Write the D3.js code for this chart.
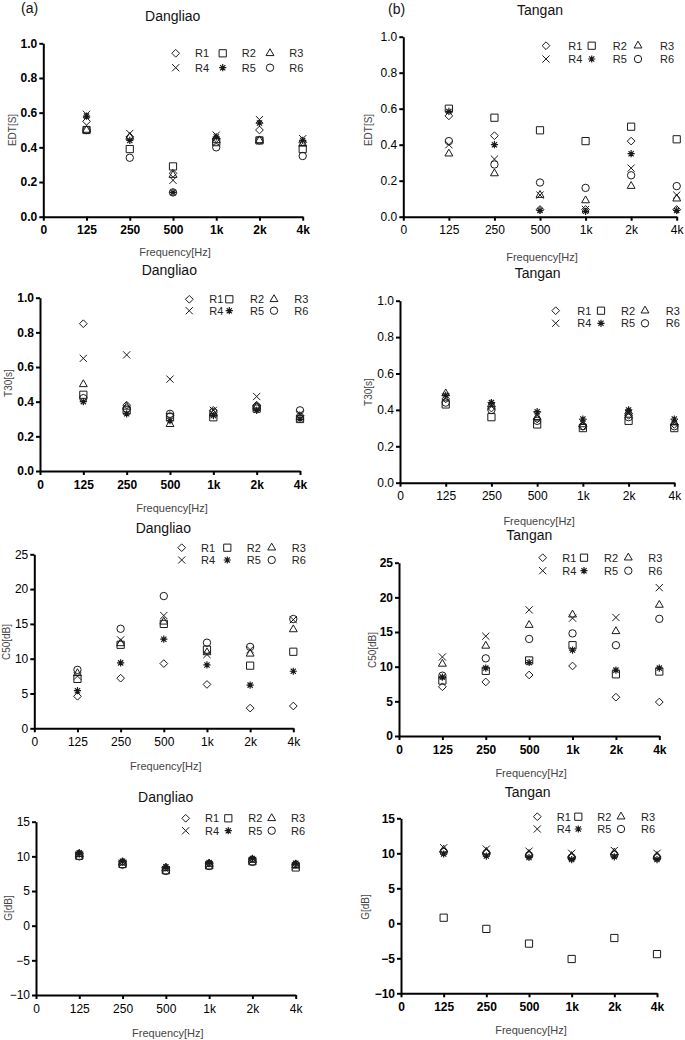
<!DOCTYPE html>
<html><head><meta charset="utf-8">
<script src="https://cdn.jsdelivr.net/npm/d3@7"></script>
<style>
body{margin:0;background:#fff}
text{font-family:"Liberation Sans",Arial,sans-serif}
</style>
</head><body>
<svg id="c" width="685" height="1040"></svg>
<script>
// ---------- DATA ----------
const freqLabels = ["0","125","250","500","1k","2k","4k"];
const seriesNames = ["R1","R2","R3","R4","R5","R6"];

// each array: R1..R6, values at 125,250,500,1k,2k,4k
const edtDangliao = [
  [0.55,0.46,0.25,0.45,0.50,0.43],
  [0.50,0.39,0.29,0.43,0.44,0.39],
  [0.50,0.46,0.24,0.44,0.44,0.42],
  [0.59,0.48,0.21,0.47,0.56,0.45],
  [0.58,0.44,0.14,0.46,0.54,0.44],
  [0.50,0.34,0.14,0.40,0.44,0.35]
];
const edtTangan = [
  [0.56,0.45,0.04,0.04,0.42,0.04],
  [0.60,0.55,0.48,0.42,0.50,0.43],
  [0.35,0.24,0.12,0.09,0.17,0.10],
  [0.40,0.32,0.12,0.04,0.27,0.12],
  [0.585,0.40,0.035,0.03,0.35,0.035],
  [0.42,0.29,0.19,0.16,0.23,0.17]
];
const t30Dangliao = [
  [0.85,0.38,0.32,0.35,0.38,0.32],
  [0.44,0.35,0.31,0.31,0.36,0.30],
  [0.50,0.37,0.27,0.33,0.37,0.31],
  [0.65,0.67,0.53,0.35,0.43,0.33],
  [0.40,0.33,0.29,0.32,0.35,0.30],
  [0.42,0.36,0.33,0.34,0.37,0.35]
];
const t30Tangan = [
  [0.46,0.41,0.35,0.31,0.37,0.32],
  [0.43,0.36,0.32,0.30,0.34,0.30],
  [0.49,0.43,0.36,0.32,0.39,0.33],
  [0.47,0.42,0.37,0.33,0.38,0.33],
  [0.48,0.44,0.39,0.35,0.40,0.35],
  [0.44,0.40,0.34,0.31,0.36,0.31]
];
const c50Dangliao = [
  [4.6,7.2,9.3,6.3,2.9,3.2],
  [7.1,12.0,15.0,11.3,9.0,11.0],
  [7.9,12.2,15.3,10.9,10.7,14.2],
  [7.5,12.7,16.2,10.6,11.3,15.6],
  [5.4,9.4,12.8,9.1,6.2,8.2],
  [8.4,14.3,19.0,12.3,11.7,15.7]
];
const c50Tangan = [
  [7.1,7.8,8.8,10.1,5.6,4.9],
  [8.0,9.4,10.9,13.1,8.9,9.3],
  [10.4,13.0,16.0,17.5,15.1,18.9],
  [11.4,14.4,18.2,17.0,17.1,21.4],
  [8.5,9.8,10.6,12.4,9.5,9.8],
  [8.7,11.2,14.0,14.8,13.1,16.9]
];
const gDangliao = [
  [10.4,9.2,8.4,9.0,9.6,8.9],
  [10.1,8.9,8.0,8.7,9.3,8.4],
  [10.3,9.1,8.3,8.9,9.5,8.7],
  [10.2,9.0,8.1,8.8,9.4,8.6],
  [10.5,9.3,8.5,9.1,9.7,9.0],
  [10.0,8.8,7.9,8.6,9.2,8.8]
];
const gTangan = [
  [10.3,10.1,9.8,9.5,9.9,9.5],
  [0.8,-0.8,-2.9,-5.1,-2.1,-4.4],
  [10.5,10.2,9.9,9.6,10.1,9.6],
  [10.8,10.6,10.3,10.0,10.4,10.0],
  [9.9,9.6,9.4,9.1,9.5,9.1],
  [10.2,10.0,9.7,9.4,9.8,9.4]
];
const ticksSec = [0,0.2,0.4,0.6,0.8,1.0];
const ticksC50 = [0,5,10,15,20,25];
const ticksG = [-10,-5,0,5,10,15];

// ---------- LAYOUT ----------
const panels = [
 {data:edtDangliao, title:"Dangliao", ylab:"EDT[S]", dom:[0,1], ticks:ticksSec, fmt:".1f", bold:true,
  x0:43.3, x6:302.7, yT:43.3, yB:216.7, tx:172.7, ty:21, ylx:12, yly:130, xly:256,
  ls:[175.7,222.7,270], ll:[195,241.7,289.3], lr:[53.3,67.7], letter:"(a)", lx:21, lyy:13},
 {data:edtTangan, title:"Tangan", ylab:"EDT[S]", dom:[0,1], ticks:ticksSec, fmt:".1f", bold:false,
  x0:403.3, x6:676.7, yT:36.7, yB:216.7, tx:540, ty:15, ylx:368, yly:130, xly:261,
  ls:[546,591.7,638], ll:[568.3,612.7,660], lr:[45.7,59], letter:"(b)", lx:388, lyy:14},
 {data:t30Dangliao, title:"Dangliao", ylab:"T30[s]", dom:[0,1], ticks:ticksSec, fmt:".1f", bold:true,
  x0:40, x6:300, yT:297.7, yB:471, tx:169.3, ty:275, ylx:8.5, yly:383, xly:512,
  ls:[189.3,229.3,274], ll:[209.3,250,294.3], lr:[299.3,310.7]},
 {data:t30Tangan, title:"Tangan", ylab:"T30[s]", dom:[0,1], ticks:ticksSec, fmt:".1f", bold:false,
  x0:400, x6:674.3, yT:300.7, yB:482.7, tx:537.7, ty:278, ylx:368, yly:392, xly:525,
  ls:[555.7,601,645], ll:[577.3,621,665.7], lr:[310.7,323.3]},
 {data:c50Dangliao, title:"Dangliao", ylab:"C50[dB]", dom:[0,25], ticks:ticksC50, fmt:"d", bold:false,
  x0:34.3, x6:293.3, yT:554.3, yB:728.3, tx:163.3, ty:533, ylx:6, yly:642, xly:770,
  ls:[181.7,227.3,271.7], ll:[201,246.7,291.7], lr:[547.7,560]},
 {data:c50Tangan, title:"Tangan", ylab:"C50[dB]", dom:[0,25], ticks:ticksC50, fmt:"d", bold:true,
  x0:399, x6:659.3, yT:562.7, yB:736, tx:529.3, ty:540, ylx:372, yly:650, xly:777,
  ls:[542.7,584,628.3], ll:[562.3,604,648.3], lr:[557.7,570.7]},
 {data:gDangliao, title:"Dangliao", ylab:"G[dB]", dom:[-10,15], ticks:ticksG, fmt:"d", bold:false,
  x0:36, x6:295.7, yT:821.7, yB:995, tx:165.7, ty:801.5, ylx:8.5, yly:908, xly:1037,
  ls:[185.7,228.3,271.7], ll:[205,248.3,291], lr:[818.3,830.7]},
 {data:gTangan, title:"Tangan", ylab:"G[dB]", dom:[-10,15], ticks:ticksG, fmt:"d", bold:true,
  x0:401, x6:657, yT:818.3, yB:993.3, tx:527.7, ty:796.5, ylx:365, yly:907, xly:1034,
  ls:[537.3,578.3,621], ll:[556.7,597.3,641], lr:[816.7,829]}
];

// ---------- SYMBOLS ----------
const INK = "#1a1a1a";
function drawSymbol(g, k, x, y) {
  const s = g.append("g").attr("transform", `translate(${x},${y})`);
  const st = {fill:"none", stroke:INK, "stroke-width":1};
  const ap = (sel, attrs) => { for (const a in attrs) sel.attr(a, attrs[a]); return sel; };
  if (k === 0) ap(s.append("path").attr("d", d3.symbol(d3.symbolDiamond2, 38)()), st);
  else if (k === 1) ap(s.append("path").attr("d", d3.symbol(d3.symbolSquare, 52)()), st);
  else if (k === 2) ap(s.append("path").attr("d", d3.symbol(d3.symbolTriangle, 27)()), st);
  else if (k === 3) ap(s.append("path").attr("d", "M-3.6,-3.6L3.6,3.6M-3.6,3.6L3.6,-3.6"), st);
  else if (k === 4) {
    ap(s.append("path").attr("d", "M0,-3.6V3.6M-3.6,0H3.6M-2.6,-2.6L2.6,2.6M-2.6,2.6L2.6,-2.6"),
       {fill:"none", stroke:INK, "stroke-width":1.2});
    s.append("circle").attr("r", 1.5).attr("fill", INK);
  }
  else ap(s.append("circle").attr("r", 3.7), st);
}

// ---------- DRAW ----------
const svg = d3.select("#c");

panels.forEach(p => {
  const g = svg.append("g");
  const x = d3.scaleLinear().domain([0, 6]).range([p.x0, p.x6]);
  const y = d3.scaleLinear().domain(p.dom).range([p.yB, p.yT]);
  const fw = p.bold ? "bold" : "normal";

  const xAxis = g.append("g").attr("transform", `translate(0,${p.yB})`)
    .call(d3.axisBottom(x).tickValues(d3.range(7)).tickFormat(i => freqLabels[i])
      .tickSize(4).tickSizeOuter(0).tickPadding(5));
  const yAxis = g.append("g").attr("transform", `translate(${p.x0},0)`)
    .call(d3.axisLeft(y).tickValues(p.ticks).tickFormat(d3.format(p.fmt))
      .tickSize(4).tickSizeOuter(0).tickPadding(2));
  [xAxis, yAxis].forEach(a => {
    a.select(".domain").attr("stroke", "#000").attr("stroke-width", 2);
    a.selectAll(".tick line").attr("stroke", "#000").attr("stroke-width", 2);
    a.selectAll(".tick text").attr("fill", "#000").style("font-size", "12px")
      .style("font-weight", fw).style("font-family", '"Liberation Sans",Arial,sans-serif');
  });

  // title
  g.append("text").attr("x", p.tx).attr("y", p.ty).attr("text-anchor", "middle")
    .style("font-size", "14px").attr("fill", "#111").text(p.title);
  // x label
  g.append("text").attr("x", (p.x0 + p.x6) / 2 + 2).attr("y", p.xly).attr("text-anchor", "middle")
    .style("font-size", "11px").attr("fill", "#444").text("Frequency[Hz]");
  // y label
  g.append("text").attr("transform", `translate(${p.ylx},${p.yly}) rotate(-90)`)
    .attr("text-anchor", "middle").attr("dy", "0.35em")
    .style("font-size", "10px").attr("fill", "#444").text(p.ylab);
  // panel letter
  if (p.letter) g.append("text").attr("x", p.lx).attr("y", p.lyy)
    .style("font-size", "14px").attr("fill", "#111").text(p.letter);

  // points
  p.data.forEach((vals, k) => {
    vals.forEach((v, i) => drawSymbol(g, k, x(i + 1), y(v)));
  });

  // legend
  seriesNames.forEach((nm, k) => {
    const row = Math.floor(k / 3), col = k % 3;
    drawSymbol(g, k, p.ls[col], p.lr[row]);
    g.append("text").attr("x", p.ll[col]).attr("y", p.lr[row]).attr("dy", "0.36em")
      .style("font-size", "11px").attr("fill", "#222").text(nm);
  });
});
</script>
</body></html>
